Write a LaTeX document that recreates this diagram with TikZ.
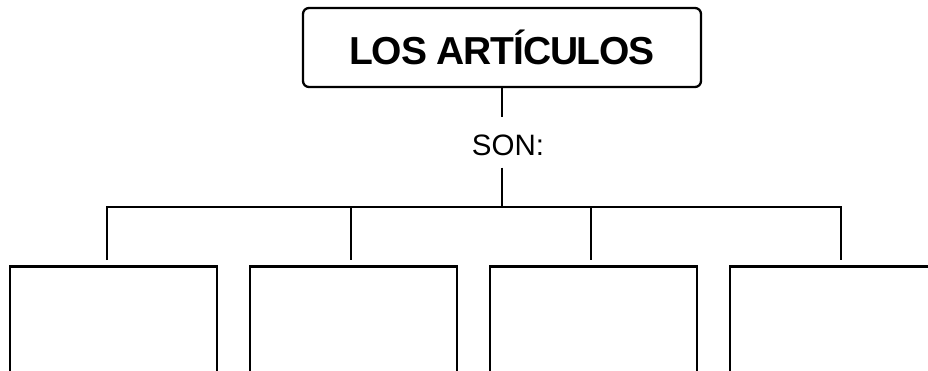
\documentclass[tikz,border=0pt]{standalone}
\usepackage{fontspec}
\setmainfont{Liberation Sans}

\begin{document}
\begin{tikzpicture}[x=1pt, y=-1pt,
every node/.style={inner sep=0pt},
rama/.style={line width=2.3pt},
hueco/.style={draw, line width=2.5pt, anchor=north,
    minimum width=207pt, minimum height=200pt}
]
\useasboundingbox (0,0) rectangle (928,371);
\clip (0,0) rectangle (928,371);

\node[draw, rounded corners=6pt, line width=2.3pt, minimum width=398pt, minimum height=79pt,
    font=\bfseries\fontsize{39}{42}\selectfont\addfontfeature{LetterSpace=-3}] (title) at (502,47.5) {LOS ARTÍCULOS};
\node[font=\fontsize{29.5}{32}\selectfont] (son) at (508,145) {SON:};
\coordinate (bus) at (502,207);

\foreach \i/\cx/\dx in {1/113.5/107, 2/353.5/351, 3/593.5/591, 4/833.5/841}{
    \node[hueco] (box\i) at (\cx,265) {};
    \coordinate (drop\i) at (\dx,207);
}

\draw[rama, shorten >=17pt] (title.south) -- (title.south |- son.north);
\draw[rama, shorten <=12pt] (title.south |- son.south) -- (bus);
\draw[rama, shorten <=5pt, shorten >=5pt] (drop1 |- box1.north) -- (drop1) -- (drop4) -- (drop4 |- box4.north);
\foreach \i in {2,3}
    \draw[rama, shorten >=5pt] (drop\i) -- (drop\i |- box\i.north);

\end{tikzpicture}
\end{document}
